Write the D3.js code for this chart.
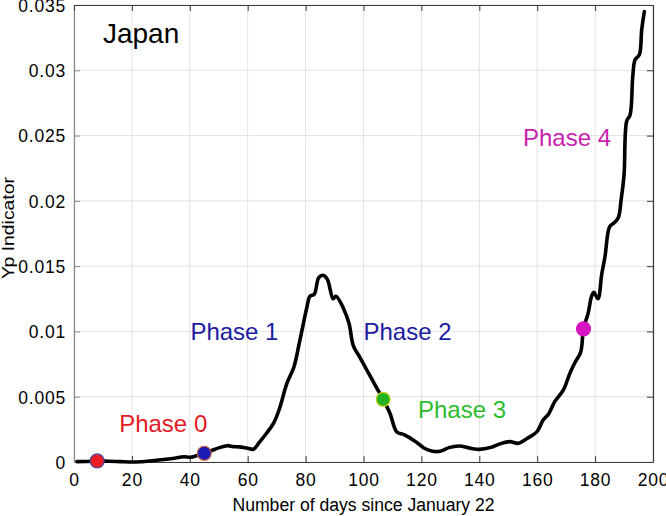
<!DOCTYPE html>
<html>
<head>
<meta charset="utf-8">
<script src="https://cdn.jsdelivr.net/npm/d3@7"></script>
<style>
  html, body { margin: 0; padding: 0; background: #fff; }
  svg { display: block; font-family: "Liberation Sans", Arial, Helvetica, sans-serif; }
</style>
</head>
<body>
<svg id="chart" width="666" height="516"></svg>
<script>
// ---- data ----
const days = [1, 4, 8, 12, 16, 20, 23, 27, 30, 34, 38, 40, 42, 45, 48, 50, 53, 55, 57, 60,
  62, 64, 66.5, 69, 71, 73.5, 76, 78, 80.5, 81.5, 83, 84.5, 86, 87.5, 89.5, 90.5, 93, 95,
  96.5, 98.8, 101.5, 104.5, 106.8, 109.2, 111.5, 114, 118, 121, 123.5, 126.5, 129.5, 133,
  137, 140, 144, 147, 150.5, 153.5, 156.5, 160, 162, 164, 166, 169, 171.3, 173, 175, 176,
  177.6, 178.8, 179.6, 181, 182.3, 183.4, 185, 186.5, 188, 189, 190, 190.9, 192.1, 193,
  193.8, 195.3, 196.1, 197];
const ypValues = [0.00003, 0.00004, 0.00008, 0.00006, 0.00003, 0.00000, 0.00002, 0.00010,
  0.00017, 0.00027, 0.00040, 0.00036, 0.00046, 0.00066, 0.00092, 0.00108, 0.00125, 0.00118,
  0.00116, 0.00105, 0.00098, 0.00150, 0.00220, 0.00300, 0.00410, 0.00600, 0.00730, 0.00930,
  0.01190, 0.01270, 0.01285, 0.01410, 0.01430, 0.01400, 0.01250, 0.01270, 0.01180, 0.01060,
  0.00890, 0.00800, 0.00690, 0.00570, 0.00480, 0.00370, 0.00230, 0.00210, 0.00156, 0.00105,
  0.00084, 0.00082, 0.00110, 0.00122, 0.00105, 0.00097, 0.00112, 0.00138, 0.00156, 0.00143,
  0.00180, 0.00235, 0.00320, 0.00370, 0.00460, 0.00550, 0.00680, 0.00760, 0.00840, 0.01020,
  0.01140, 0.01270, 0.01300, 0.01250, 0.01440, 0.01570, 0.01800, 0.01830, 0.01870, 0.02010,
  0.02200, 0.02610, 0.02660, 0.02950, 0.03080, 0.03120, 0.03310, 0.03450];

const phaseDays = [8, 45, 106.8, 176];
const phaseValues = [0.00008, 0.00067, 0.0048, 0.0102];
const phaseFill = ["#ec1c24", "#1a1ab4", "#22b422", "#d614c0"];
const phaseStroke = ["#4a4aa0", "#d06040", "#d8d020", "#d614c0"];

const phaseLabels = ["Phase 0", "Phase 1", "Phase 2", "Phase 3", "Phase 4"];
const labelDays = [15.6, 40.2, 100, 118.8, 155.1];
const labelValues = [0.00233, 0.00933, 0.00933, 0.00334, 0.0242];
const labelColors = ["#e3191f", "#1c1ca0", "#1c1ca0", "#2cbb2c", "#c81eb0"];

const xTicks = [0, 20, 40, 60, 80, 100, 120, 140, 160, 180, 200];
const yTicks = [0, 0.005, 0.01, 0.015, 0.02, 0.025, 0.03, 0.035];
const yTickLabels = ["0", "0.005", "0.01", "0.015", "0.02", "0.025", "0.03", "0.035"];

// ---- layout ----
const svg = d3.select("#chart");
const L = 74, R = 653, T = 5, B = 462;
const x = d3.scaleLinear().domain([0, 200]).range([L, R]);
const y = d3.scaleLinear().domain([0, 0.035]).range([B, T]);

// grid
const g = svg.append("g");
g.selectAll(".gx").data(xTicks).enter().append("line")
  .attr("x1", d => x(d)).attr("x2", d => x(d)).attr("y1", T).attr("y2", B)
  .attr("stroke", "#e3e3e3").attr("stroke-width", 1);
g.selectAll(".gy").data(yTicks).enter().append("line")
  .attr("x1", L).attr("x2", R).attr("y1", d => y(d)).attr("y2", d => y(d))
  .attr("stroke", "#e3e3e3").attr("stroke-width", 1);

// axes (inward ticks)
const xAxis = d3.axisBottom(x).tickValues(xTicks).tickSizeInner(-6).tickSizeOuter(0).tickPadding(12).tickFormat(d3.format("d"));
const yAxis = d3.axisLeft(y).tickValues(yTicks).tickSizeInner(-6).tickSizeOuter(0).tickPadding(8)
  .tickFormat((d, i) => yTickLabels[i]);
const xTop = d3.axisTop(x).tickValues(xTicks).tickSizeInner(-6).tickSizeOuter(0).tickFormat("");
const yRight = d3.axisRight(y).tickValues(yTicks).tickSizeInner(-6).tickSizeOuter(0).tickFormat("");

function styleAxis(sel, col) {
  sel.select(".domain").attr("stroke", col).attr("stroke-width", 1.2);
  sel.selectAll(".tick line").attr("stroke", col).attr("stroke-width", 1);
  sel.selectAll(".tick text").attr("fill", "#000").style("font-size", "17.5px")
    .style("letter-spacing", "0.8px")
    .style("font-family", "'Liberation Sans', Arial, sans-serif");
}
const gx = svg.append("g").attr("transform", `translate(0,${B})`).call(xAxis);
styleAxis(gx, "#3a3a3a");
const gy = svg.append("g").attr("transform", `translate(${L},0)`).call(yAxis);
styleAxis(gy, "#888888");
gy.selectAll(".tick text").attr("dx", "0").attr("dy", "0.36em");
const gt = svg.append("g").attr("transform", `translate(0,${T})`).call(xTop);
styleAxis(gt, "#3a3a3a");
const gr = svg.append("g").attr("transform", `translate(${R},0)`).call(yRight);
styleAxis(gr, "#3a3a3a");

// curve
const pts = days.map((d, i) => [d, ypValues[i]]);
svg.append("path").datum(pts)
  .attr("fill", "none").attr("stroke", "#000").attr("stroke-width", 3.6)
  .attr("stroke-linejoin", "round").attr("stroke-linecap", "round")
  .attr("d", d3.line().curve(d3.curveCatmullRom.alpha(0.5)).x(d => x(d[0])).y(d => y(d[1])));

// phase markers
svg.selectAll(".pm").data(phaseDays).enter().append("circle")
  .attr("cx", d => x(d)).attr("cy", (d, i) => y(phaseValues[i])).attr("r", 7)
  .attr("fill", (d, i) => phaseFill[i]).attr("stroke", (d, i) => phaseStroke[i]).attr("stroke-width", 1.2);

// phase labels
svg.selectAll(".pl").data(phaseLabels).enter().append("text")
  .attr("x", (d, i) => x(labelDays[i])).attr("y", (d, i) => y(labelValues[i]))
  .attr("fill", (d, i) => labelColors[i]).style("font-size", "24px").text(d => d);

// title inside
svg.append("text").attr("x", x(10)).attr("y", 43).style("font-size", "28px").attr("fill", "#000").text("Japan");

// axis labels
svg.append("text").attr("x", x(100)).attr("y", 511).attr("text-anchor", "middle")
  .style("font-size", "17.6px").attr("fill", "#000").text("Number of days since January 22");
svg.append("text").attr("transform", "translate(14,228) rotate(-90)").attr("text-anchor", "middle")
  .attr("textLength", 102).attr("lengthAdjust", "spacingAndGlyphs")
  .style("font-size", "17px").attr("fill", "#000").text("Yp Indicator");
</script>
</body>
</html>
